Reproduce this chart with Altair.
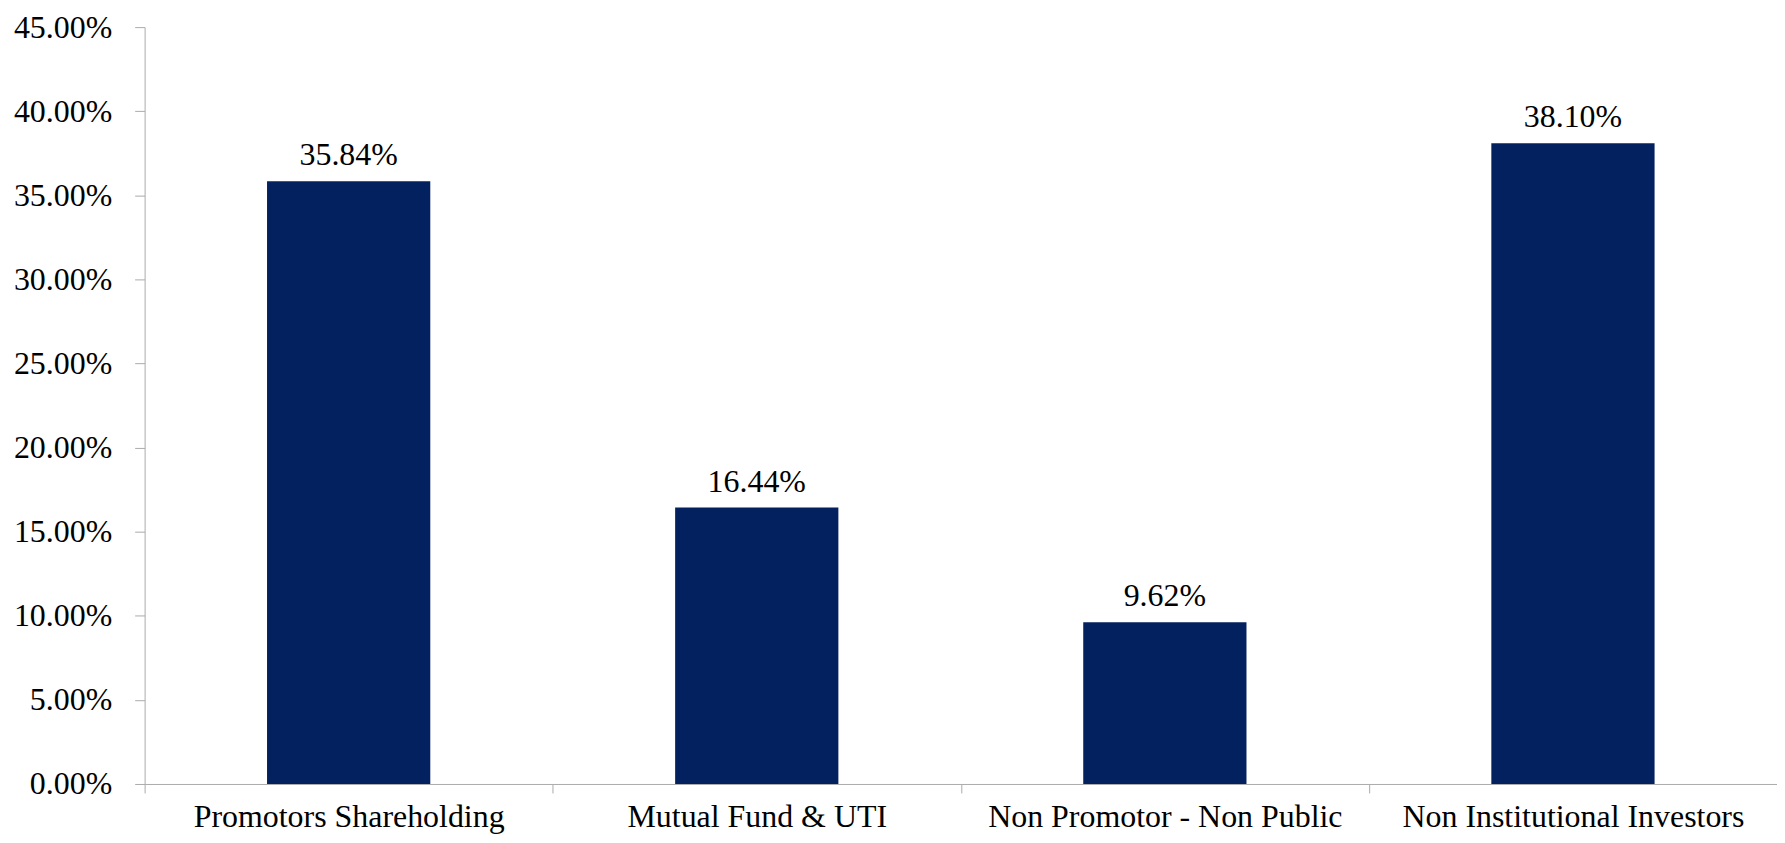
import altair as alt
import pandas as pd

categories = ["Promotors Shareholding", "Mutual Fund & UTI", "Non Promotor - Non Public", "Non Institutional Investors"]
values = [0.3584, 0.1644, 0.0962, 0.3810]
y_ticks = [0.0, 0.05, 0.10, 0.15, 0.20, 0.25, 0.30, 0.35, 0.40, 0.45]

df = pd.DataFrame({"category": categories, "value": values})

FONT = "Liberation Serif"
FS = 32
GRAY = "#ababab"

x = alt.X(
    "category:N",
    sort=categories,
    title=None,
    scale=alt.Scale(paddingInner=0, paddingOuter=0),
    axis=alt.Axis(
        labelAngle=0,
        labelFont=FONT,
        labelFontSize=FS,
        labelColor="black",
        labelPadding=9,
        labelLimit=0,
        tickBand="extent",
        tickSize=9,
        tickColor=GRAY,
        domainColor=GRAY,
        labelBaseline="top",
    ),
)

y = alt.Y(
    "value:Q",
    title=None,
    scale=alt.Scale(domain=[0, 0.45], nice=False),
    axis=alt.Axis(
        values=y_ticks,
        format=".2%",
        grid=False,
        labelFont=FONT,
        labelFontSize=FS,
        labelColor="black",
        labelPadding=23,
        tickSize=10,
        tickColor=GRAY,
        domainColor=GRAY,
    ),
)

bars = alt.Chart(df).mark_bar(color="#03215F", width=alt.RelativeBandSize(0.4)).encode(x=x, y=y)

labels = alt.Chart(df).mark_text(
    font=FONT, fontSize=FS, color="black", dy=-16, baseline="alphabetic"
).encode(
    x=alt.X("category:N", sort=categories),
    y=alt.Y("value:Q"),
    text=alt.Text("value:Q", format=".2%"),
)

chart = (
    alt.layer(bars, labels)
    .properties(
        width=1637,
        height=759,
        padding={"left": 137, "top": 18, "right": 0, "bottom": 50},
        autosize=alt.AutoSizeParams(type="none"),
    )
    .configure_view(stroke=None)
)

chart.save("out.html", embed_options={"renderer": "svg", "actions": False})
